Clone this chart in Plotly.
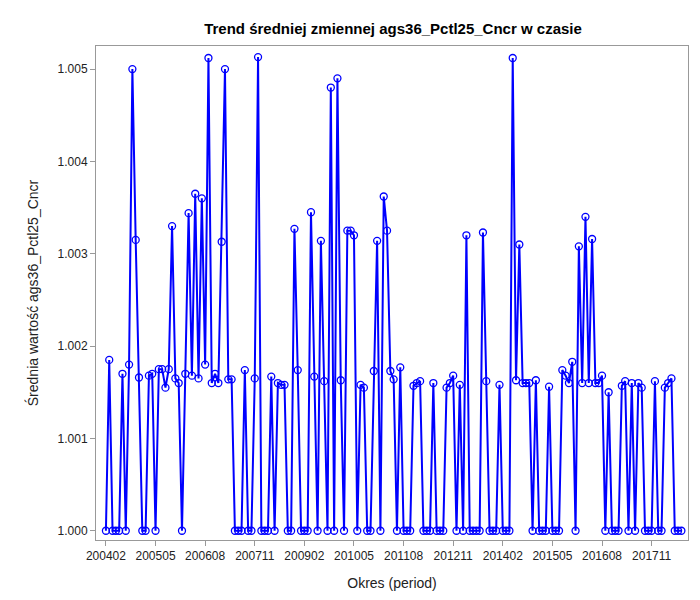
import plotly.graph_objects as go

# values, month by month from 200402
vals_a = [1.0, 1.00185, 1.0, 1.0, 1.0, 1.0017, 1.0, 1.0018, 1.005, 1.00315, 1.00166,
          1.0, 1.0, 1.00168, 1.0017, 1.0, 1.00175, 1.00175, 1.00155, 1.00175, 1.0033,
          1.00165, 1.0016, 1.0, 1.0017, 1.00344, 1.00168, 1.00365, 1.00165, 1.0036, 1.0018,
          1.00512, 1.0016, 1.0017, 1.0016, 1.00313, 1.005, 1.00164, 1.00164, 1.0, 1.0, 1.0,
          1.00174, 1.0]
vals_b = [1.0, 1.00165, 1.00513, 1.0, 1.0, 1.0, 1.00167, 1.0, 1.0016, 1.00158, 1.00158,
          1.0, 1.0, 1.00327, 1.00174, 1.0, 1.0, 1.0, 1.00345, 1.00167, 1.0, 1.00314,
          1.00162, 1.0, 1.0048, 1.0, 1.0049, 1.00163, 1.0, 1.00325, 1.00325, 1.0032, 1.0,
          1.00158, 1.00155, 1.0, 1.0, 1.00173]
vals_c = [1.00314, 1.0, 1.00362, 1.00325, 1.00173, 1.00164, 1.0, 1.00177, 1.0, 1.0, 1.0,
          1.00157, 1.0016, 1.00162, 1.0, 1.0, 1.0, 1.0016, 1.0, 1.0, 1.0, 1.00155, 1.0016,
          1.00168, 1.0, 1.00158, 1.0, 1.0032, 1.0, 1.0, 1.0, 1.0, 1.00323, 1.00162, 1.0,
          1.0, 1.0, 1.00158, 1.0, 1.0, 1.0, 1.00512, 1.00163, 1.0031]
vals_d = [1.0016, 1.0016, 1.0016, 1.0, 1.00163, 1.0, 1.0, 1.0, 1.00156, 1.0, 1.0, 1.0,
          1.00174, 1.00168, 1.0016, 1.00183, 1.0, 1.00308, 1.0016, 1.0034, 1.0016, 1.00316,
          1.0016, 1.0016, 1.00168, 1.0, 1.0015, 1.0, 1.0, 1.0, 1.00157, 1.00162, 1.0,
          1.0016, 1.0, 1.0016, 1.00155, 1.0, 1.0, 1.0, 1.00162, 1.0, 1.0, 1.00155, 1.0016,
          1.00165, 1.0, 1.0, 1.0]
values = vals_a + vals_b + vals_c + vals_d

periods = []
y, m = 2004, 2
for _ in values:
    periods.append(f"{y}{m:02d}")
    m += 1
    if m > 12:
        y, m = y + 1, 1
tick_labels = periods[::15]

fig = go.Figure()
fig.add_trace(go.Scatter(
    x=periods, y=values, mode="lines+markers",
    line=dict(color="#0000ff", width=2),
    marker=dict(symbol="circle-open", size=7, color="#0000ff", line=dict(width=1.3)),
))
fig.update_layout(
    width=700, height=600, template="simple_white",
    margin=dict(l=88, r=20, t=38, b=68),
    title=dict(text="<b>Trend średniej zmiennej ags36_Pctl25_Cncr w czasie</b>",
               x=0.55, y=0.975, font=dict(family="Arial", size=15, color="black")),
    font=dict(family="Arial", size=12, color="#222"),
    showlegend=False,
)
fig.update_xaxes(type="category", tickvals=tick_labels, ticktext=tick_labels,
                 title=dict(text="Okres (period)", font=dict(size=14)),
                 mirror=True, showline=True, linecolor="#999", ticks="outside",
                 tickcolor="#999", range=[-3, len(values) + 1])
fig.update_yaxes(range=[0.9999, 1.00525], tickvals=[1.0, 1.001, 1.002, 1.003, 1.004, 1.005],
                 tickformat=".3f", title=dict(text="Średnia wartość ags36_Pctl25_Cncr", font=dict(size=14)),
                 mirror=True, showline=True, linecolor="#999", ticks="outside", tickcolor="#999")
fig.write_html("out.html")
